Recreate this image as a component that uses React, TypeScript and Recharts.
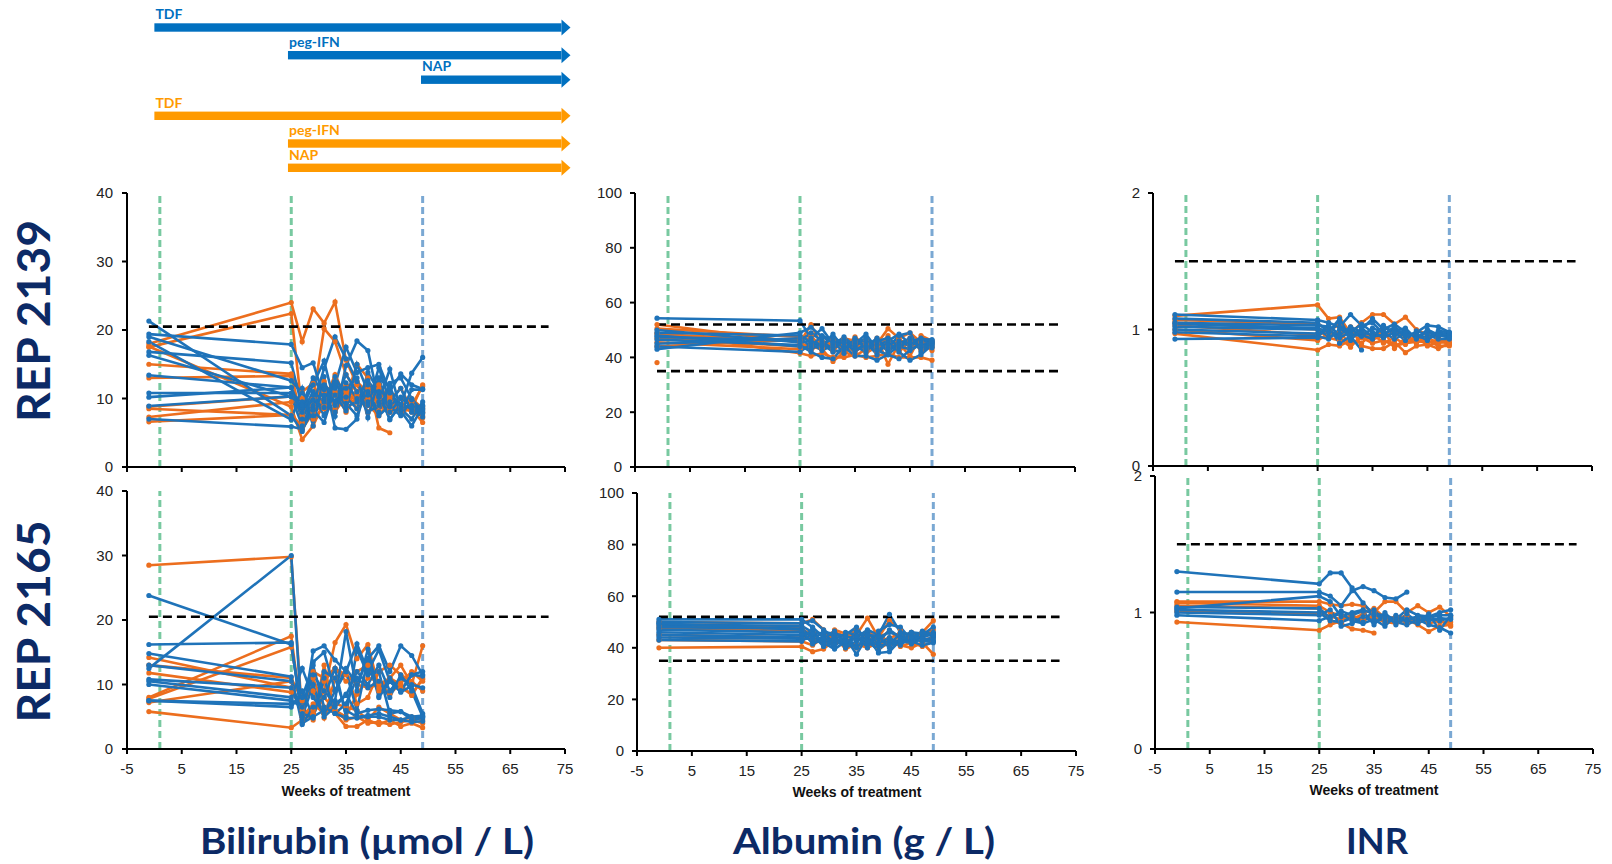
import React from 'react';
import { LineChart, Line, XAxis, YAxis, ReferenceLine } from 'recharts';

// ---------- shared categories ----------
const WEEKS = [-1, 25, 27, 29, 31, 33, 35, 37, 39, 41, 43, 45, 47, 49];
const X_TICKS = [-5, 5, 15, 25, 35, 45, 55, 65, 75];
const PHASE_WEEKS = [1, 25];
const NAP_END_WEEK = 49;

const BILI_TICKS = [0, 10, 20, 30, 40];
const ALB_TICKS = [0, 20, 40, 60, 80, 100];
const INR_TICKS = [0, 1, 2];
const BILI_LIMITS = [20.5];
const ALB_LIMITS = [52, 35];
const INR_LIMITS = [1.5];

type S = (number | null)[];
const _ = null;

// ---------- Bilirubin (µmol/L) REP 2139 ----------
const BILI_2139_BLUE: S[] = [
  [21.3, 7.5, 5.2, 9.0, 14.4, 19.0, 15.8, 12.5, 9.5, 13.0, 8.0, 10.0, 9.0, 8.5],
  [19.4, 17.9, 14.5, 15.2, 10.0, 12.0, 17.5, 13.8, 14.5, 15.0, 11.0, 13.6, 12.0, 11.4],
  [19.0, 12.6, 10.8, 8.5, 11.3, 7.4, 14.8, 18.4, 17.0, 9.5, 14.3, 8.2, 6.0, 8.8],
  [18.3, 6.9, 11.5, 6.0, 13.2, 5.7, 5.5, 7.0, 12.6, 10.5, 7.0, 9.0, 13.7, 16.0],
  [16.8, 15.2, 8.7, 12.0, 15.5, 9.0, 11.5, 13.0, 7.2, 12.8, 11.8, 7.8, 11.3, 11.3],
  [16.3, 10.3, 6.0, 9.8, 8.7, 13.2, 10.2, 8.5, 13.8, 11.0, 6.9, 9.2, 8.5, 7.3],
  [13.4, 11.6, 8.0, 11.0, 9.5, 8.0, 12.3, 10.0, 9.0, 14.5, 9.5, 11.5, 8.0, 9.0],
  [10.8, 10.8, 9.5, 7.5, 12.0, 10.5, 8.2, 15.0, 11.0, 8.0, 12.2, 13.0, 10.0, 8.0],
  [10.2, 11.6, 7.0, 10.5, 7.5, 12.5, 9.3, 7.5, 12.0, 10.2, 8.8, 7.5, 9.8, 8.3],
  [8.9, 10.3, 9.0, 13.0, 10.5, 9.5, 13.5, 11.0, 8.0, 9.0, 10.8, 8.5, 7.0, 9.5],
  [7.0, 5.9, 5.5, 8.3, 6.5, 11.5, 8.8, 9.5, 10.5, 7.5, 9.0, 10.2, 8.8, 7.8],
];
const BILI_2139_ORANGE: S[] = [
  [18.0, 24.0, 18.3, 23.1, 21.0, 24.1, 15.6, 12.0, 9.0, 10.5, 8.0, 9.0, 8.0, 7.5],
  [17.5, 22.4, 8.0, 10.0, 20.2, 18.3, 13.5, 11.0, 12.0, 9.5, 10.2, 8.5, 9.0, 11.8],
  [17.6, 8.8, 4.0, 6.0, 9.5, 13.5, 10.0, 15.0, 13.0, 5.7, 5.0, _, _, _],
  [15.0, 13.6, 6.5, 9.0, 12.5, 8.5, 9.8, 12.5, 10.8, 12.0, 9.8, 11.5, 8.5, 12.0],
  [13.0, 13.3, 11.0, 12.2, 8.5, 11.0, 8.0, 10.5, 9.5, 8.2, 10.5, 9.0, 10.0, 8.5],
  [8.8, 10.3, 7.5, 9.0, 11.0, 9.0, 11.0, 8.5, 10.0, 11.5, 8.5, 10.0, 9.5, 7.2],
  [8.5, 7.6, 6.0, 8.5, 10.0, 13.0, 9.0, 11.0, 8.0, 10.0, 9.0, 8.0, 8.5, 6.5],
  [7.3, 9.5, 10.0, 7.0, 8.8, 10.5, 12.0, 9.5, 11.5, 9.0, 8.0, 9.0, 8.2, 8.0],
  [6.6, 7.6, 5.5, 8.0, 9.0, 8.0, 10.5, 10.0, 9.0, 7.5, 9.5, 8.0, 9.5, 8.8],
];

// ---------- Bilirubin (µmol/L) REP 2165 ----------
const BILI_2165_BLUE: S[] = [
  [23.8, 16.2, 5.0, 13.5, 15.0, 9.0, 12.0, 6.0, 14.0, 16.0, 12.0, 16.0, 14.5, 11.5],
  [12.5, 30.0, 4.0, 5.0, 6.0, 7.5, 18.2, 9.0, 15.5, 8.2, 11.0, 9.0, 11.5, 11.3],
  [16.2, 16.5, 4.5, 15.2, 16.0, 13.8, 12.0, 16.3, 12.0, 15.4, 10.5, 8.8, 9.8, 5.5],
  [14.8, 11.2, 3.8, 6.5, 8.0, 12.5, 5.0, 15.5, 11.5, 12.0, 5.5, 5.8, 5.0, 5.0],
  [13.0, 10.5, 5.0, 10.0, 5.0, 6.5, 8.5, 5.5, 6.0, 6.2, 6.0, 5.8, 4.5, 4.8],
  [10.8, 9.5, 5.5, 4.8, 11.0, 5.5, 4.8, 4.8, 5.0, 5.0, 4.5, 4.5, 4.2, 4.3],
  [10.5, 8.0, 12.5, 8.0, 5.5, 9.0, 12.5, 10.0, 14.0, 8.0, 10.5, 9.0, 11.5, 12.0],
  [10.0, 7.5, 6.5, 11.5, 9.0, 7.0, 8.3, 12.0, 10.0, 13.0, 9.0, 11.0, 10.0, 9.5],
  [7.5, 6.5, 9.0, 5.0, 12.0, 11.0, 6.0, 5.0, 5.2, 5.5, 5.0, 4.5, 5.0, 5.2],
  [7.5, 7.0, 8.0, 13.0, 6.5, 5.5, 7.0, 11.0, 9.5, 10.5, 8.0, 11.5, 9.0, 5.0],
];
const BILI_2165_ORANGE: S[] = [
  [28.5, 29.8, 5.0, 12.0, 11.0, 12.5, 10.5, 12.0, 13.0, 9.0, 11.0, 9.5, 8.5, 10.8],
  [14.2, 9.5, 5.5, 6.0, 9.0, 16.5, 19.3, 14.0, 16.2, 9.5, 11.0, 13.0, 10.0, 16.0],
  [11.8, 8.8, 6.5, 4.5, 13.0, 5.5, 3.5, 3.5, 4.5, 3.8, 4.5, 3.5, 4.0, 3.3],
  [8.0, 17.5, 4.5, 5.5, 10.5, 12.5, 11.5, 10.0, 9.5, 10.0, 11.0, 10.0, 8.3, 11.0],
  [7.8, 15.8, 6.0, 11.0, 6.5, 6.0, 5.0, 8.5, 11.0, 10.5, 8.5, 10.2, 12.0, 10.5],
  [7.2, 10.5, 5.0, 7.0, 5.5, 7.0, 6.5, 6.0, 4.5, 6.5, 5.5, 4.5, 5.0, 4.5],
  [5.8, 3.3, 4.5, 5.5, 8.0, 6.0, 4.5, 5.0, 4.0, 4.2, 3.8, 4.2, 4.5, 4.0],
  [13.0, 11.0, 7.5, 9.0, 4.8, 11.0, 12.0, 7.0, 8.0, 12.0, 13.0, 11.5, 10.5, 9.0],
];

// ---------- Albumin (g/L) REP 2139 ----------
const ALB_2139_BLUE: S[] = [
  [54.3, 53.4, 47.0, 50.5, 45.0, 46.5, 44.0, 47.0, 44.5, 46.0, 48.5, 45.0, 46.0, 45.5],
  [49.0, 48.0, 45.5, 44.0, 48.5, 43.0, 46.5, 44.0, 47.0, 43.0, 45.0, 47.0, 44.0, 46.0],
  [47.5, 46.0, 49.0, 46.0, 43.0, 46.0, 42.0, 45.5, 41.0, 45.5, 42.0, 39.0, 41.0, 44.5],
  [46.5, 44.5, 42.0, 40.0, 39.5, 44.0, 40.5, 40.5, 39.0, 41.0, 39.5, 42.5, 45.0, 44.0],
  [45.0, 47.0, 44.0, 48.0, 46.0, 41.5, 47.0, 43.0, 45.5, 43.5, 48.0, 49.0, 42.0, 45.0],
  [44.0, 42.0, 45.0, 42.5, 44.5, 47.5, 44.0, 42.0, 46.5, 42.0, 46.0, 44.0, 46.5, 46.5],
  [43.0, 49.0, 51.0, 47.5, 45.5, 44.0, 45.0, 48.5, 43.0, 44.5, 43.5, 46.5, 43.5, 45.0],
  [50.0, 45.5, 46.0, 44.5, 47.0, 45.5, 43.0, 44.0, 46.0, 47.0, 44.0, 43.0, 44.5, 43.5],
  [48.0, 44.0, 43.0, 45.0, 42.0, 43.0, 46.0, 46.5, 42.5, 41.0, 44.5, 45.5, 47.0, 46.0],
];
const ALB_2139_ORANGE: S[] = [
  [52.0, 45.5, 52.0, 44.0, 43.0, 41.0, 45.0, 42.5, 45.0, 50.5, 47.0, 49.0, 45.5, 42.5],
  [50.5, 47.5, 48.0, 43.0, 38.5, 42.0, 40.5, 43.0, 47.0, 37.5, 45.0, 40.5, 48.0, 46.0],
  [49.0, 41.5, 40.5, 41.5, 40.0, 40.0, 41.0, 40.0, 40.5, 41.5, 40.0, 40.0, 40.0, 39.0],
  [47.0, 44.0, 45.0, 46.0, 44.5, 46.0, 44.0, 46.5, 43.0, 48.0, 42.0, 46.0, 44.0, 43.5],
  [45.5, 43.0, 44.0, 43.0, 45.0, 43.0, 47.5, 44.0, 45.5, 44.0, 46.5, 44.5, 46.0, 45.5],
  [44.0, 46.5, 47.0, 44.5, 46.5, 44.5, 42.0, 45.0, 42.0, 46.0, 43.5, 47.0, 42.5, 44.0],
  [38.1, _, _, _, _, _, _, _, _, _, _, _, _, _],
  [48.5, 46.0, 42.5, 45.5, 42.0, 47.0, 46.0, 41.5, 44.0, 43.0, 44.0, 43.0, 45.5, 45.0],
];

// ---------- Albumin (g/L) REP 2165 ----------
const ALB_2165_BLUE: S[] = [
  [51.0, 51.0, 48.0, 44.0, 46.0, 42.0, 44.0, 47.0, 45.0, 53.0, 46.0, 45.0, 44.0, 45.5],
  [50.0, 49.5, 50.5, 47.0, 44.0, 45.0, 48.0, 42.0, 44.0, 46.0, 44.5, 46.0, 45.0, 48.0],
  [49.0, 48.5, 46.0, 45.5, 42.0, 44.0, 37.5, 44.5, 38.0, 38.5, 43.0, 43.5, 42.5, 42.5],
  [48.0, 47.5, 44.0, 43.0, 40.5, 46.0, 45.0, 40.0, 46.5, 49.0, 48.0, 43.0, 46.5, 45.0],
  [47.0, 46.0, 45.0, 40.5, 44.5, 40.0, 42.5, 46.0, 41.5, 44.0, 41.0, 44.5, 43.0, 44.0],
  [46.0, 45.0, 42.5, 44.5, 41.0, 43.5, 41.0, 43.0, 43.5, 41.5, 45.5, 41.5, 44.0, 46.0],
  [45.0, 44.0, 47.0, 41.0, 43.0, 41.0, 46.5, 44.0, 40.5, 42.0, 42.0, 46.0, 45.5, 44.5],
  [44.0, 43.5, 43.5, 46.0, 45.5, 44.5, 43.5, 41.5, 42.0, 47.0, 44.0, 42.5, 41.0, 42.0],
  [43.0, 42.5, 45.5, 42.0, 39.5, 42.5, 40.0, 45.0, 44.5, 40.0, 43.5, 44.0, 46.0, 45.0],
  [49.5, 47.0, 41.5, 43.5, 46.5, 40.5, 44.5, 42.5, 39.0, 43.0, 42.5, 42.0, 43.5, 43.0],
];
const ALB_2165_ORANGE: S[] = [
  [50.0, 49.5, 51.0, 47.0, 42.0, 44.0, 45.0, 51.5, 44.0, 50.5, 47.0, 44.0, 46.0, 50.5],
  [40.0, 40.5, 38.5, 39.5, 43.0, 41.0, 40.0, 43.0, 39.5, 42.0, 41.0, 40.0, 42.0, 37.5],
  [45.0, 44.0, 44.0, 41.5, 46.0, 44.5, 44.0, 46.5, 43.5, 46.5, 43.5, 46.0, 43.0, 44.0],
  [47.5, 46.5, 46.0, 45.0, 41.5, 43.0, 47.5, 42.0, 46.0, 41.5, 45.0, 44.5, 46.0, 45.5],
  [43.0, 42.5, 41.0, 44.0, 44.5, 39.5, 41.5, 40.0, 42.0, 44.0, 40.5, 42.0, 40.5, 42.5],
  [48.5, 48.0, 43.0, 42.0, 47.0, 45.5, 43.0, 44.5, 41.0, 43.5, 46.0, 43.5, 45.0, 47.0],
];

// ---------- INR REP 2139 ----------
const INR_2139_BLUE: S[] = [
  [1.11, 1.07, 1.05, 1.02, 1.11, 1.03, 1.05, 0.97, 1.0, 0.95, 0.98, 1.03, 1.02, 0.98],
  [1.08, 1.05, 0.98, 1.08, 0.93, 1.0, 1.08, 1.0, 1.04, 0.98, 0.95, 0.93, 0.97, 0.95],
  [1.05, 1.03, 1.02, 0.9, 0.95, 0.85, _, _, _, _, _, _, _, _],
  [1.02, 1.0, 0.95, 0.97, 1.0, 0.96, 0.93, 1.03, 0.96, 0.99, 0.94, 0.98, 0.95, 0.97],
  [1.0, 0.97, 1.0, 0.94, 0.98, 1.04, 0.98, 0.94, 0.98, 0.92, 0.99, 0.96, 0.93, 0.93],
  [0.98, 0.95, 0.93, 1.0, 0.97, 0.95, 1.01, 0.98, 0.93, 0.97, 0.96, 0.94, 0.98, 0.96],
  [0.93, 0.94, 1.03, 0.96, 1.02, 0.98, 0.96, 1.01, 0.99, 1.01, 0.93, 1.0, 0.96, 0.94],
  [1.04, 1.01, 0.98, 1.05, 0.92, 1.01, 0.95, 0.96, 1.02, 0.95, 0.97, 0.92, 0.99, 0.98],
];
const INR_2139_ORANGE: S[] = [
  [1.1, 1.18, 1.08, 1.09, 0.97, 1.05, 1.11, 1.11, 1.04, 1.09, 1.0, 0.96, 0.94, 0.9],
  [1.07, 1.04, 1.0, 1.03, 0.95, 0.98, 0.93, 0.95, 0.98, 0.95, 0.92, 0.9, 0.93, 0.89],
  [1.05, 1.0, 0.94, 0.92, 1.02, 0.88, 0.86, 0.86, 0.91, 0.83, 0.88, 0.89, 0.86, 0.9],
  [1.0, 0.92, 0.97, 0.98, 0.89, 0.94, 0.9, 0.92, 0.88, 0.9, 0.91, 0.92, 0.88, 0.88],
  [0.97, 0.85, 0.89, 0.88, 0.92, 0.9, 0.97, 0.9, 0.94, 0.89, 0.96, 0.88, 0.91, 0.9],
  [1.03, 0.96, 0.99, 0.94, 0.87, 0.96, 0.92, 1.0, 0.86, 0.94, 0.9, 0.94, 0.9, 0.92],
];

// ---------- INR REP 2165 ----------
const INR_2165_BLUE: S[] = [
  [1.3, 1.21, 1.29, 1.29, 1.18, 1.07, 0.98, 0.96, 0.93, 0.95, 0.97, 0.96, 0.98, 0.98],
  [1.15, 1.15, 1.12, 1.05, 1.16, 1.19, 1.16, 1.11, 1.1, 1.15, _, _, _, _],
  [1.03, 1.12, 1.08, 0.97, 1.0, 1.02, 0.99, 0.98, 0.95, 1.02, 0.98, 0.97, 1.0, 1.02],
  [1.02, 1.0, 0.94, 0.93, 0.96, 0.93, 1.02, 0.93, 0.96, 0.94, 0.92, 0.96, 0.94, 0.96],
  [1.0, 0.98, 1.02, 0.9, 0.92, 0.97, 0.93, 0.96, 0.93, 0.91, 0.95, 0.91, 0.89, 0.85],
  [0.98, 0.94, 0.97, 0.99, 0.94, 0.92, 0.95, 0.9, 0.98, 0.94, 0.97, 0.94, 0.96, 0.95],
  [1.04, 1.03, 0.96, 1.01, 0.98, 1.01, 0.91, 1.0, 0.91, 0.99, 0.93, 0.99, 0.87, 0.98],
];
const INR_2165_ORANGE: S[] = [
  [1.08, 1.08, 1.06, 1.05, 1.06, 1.05, 1.0, 1.08, 1.08, 1.0, 1.05, 1.0, 1.04, 0.97],
  [1.07, 1.05, 1.0, 0.98, 0.95, 0.99, 1.03, 0.96, 0.95, 0.98, 0.93, 0.96, 0.93, 0.93],
  [1.05, 1.03, 0.94, 0.92, 0.88, 0.87, 0.85, _, _, _, _, _, _, _],
  [0.93, 0.87, 0.91, 0.94, 0.97, 0.95, 0.96, 0.93, 0.92, 0.95, 0.91, 0.86, 0.9, 0.91],
  [1.01, 0.99, 0.97, 0.95, 0.98, 0.94, 0.98, 0.95, 0.97, 0.92, 0.96, 0.92, 0.94, 0.9],
];

// ---------- treatment arrows (weeks) ----------
const ARROW_LABELS = ['TDF', 'peg-IFN', 'NAP', 'TDF', 'peg-IFN', 'NAP'];
const ARROW_START_WEEKS = [0, 24.4, 48.7, 0, 24.4, 24.4];
const ARROW_END_WEEK = 76;
const ARROW_GROUP = ['blue', 'blue', 'blue', 'orange', 'orange', 'orange'];

const ROW_LABELS = ['REP 2139', 'REP 2165'];
const COL_TITLES = ['Bilirubin (µmol / L)', 'Albumin (g / L)', 'INR'];
const X_TITLE = 'Weeks of treatment';

// ---------- styles ----------
const C_BLUE = '#1F73B9';
const C_ORANGE = '#EC6E1E';
const C_GREEN_REF = '#78C9A0';
const C_BLUE_REF = '#7AA8D3';
const C_NAVY = '#0C2A66';
const C_ARROW: Record<string, string> = { blue: '#0070C0', orange: '#FF9A00' };
const TICK_FONT = { fontSize: 15, fill: '#222', fontFamily: '"Liberation Sans", Arial, sans-serif' };

type PanelProps = {
  left: number; top: number; w: number; h: number;
  blue: S[]; orange: S[];
  yMax: number; yTicks: number[]; limits: number[];
  showX: boolean; yGap: number;
};

function Panel(p: PanelProps) {
  const rows = WEEKS.map((wk, i) => {
    const r: Record<string, number | null> = { week: wk };
    p.orange.forEach((s, j) => { r['o' + j] = s[i] ?? null; });
    p.blue.forEach((s, j) => { r['b' + j] = s[i] ?? null; });
    return r;
  });
  const axisStyle = { stroke: '#000', strokeWidth: 2 };
  return (
    <div style={{ position: 'absolute', left: p.left - 60, top: p.top - 10 }}>
      <LineChart width={p.w + 70} height={p.h + 40} data={rows} margin={{ top: 10, right: 10, left: 0, bottom: 0 }}>
        <XAxis
          type="number" dataKey="week" domain={[-5, 75]} ticks={X_TICKS} interval={0}
          allowDataOverflow height={30}
          axisLine={axisStyle} tickLine={axisStyle} tickSize={5} tickMargin={9}
          tick={TICK_FONT}
          tickFormatter={(v: number) => (p.showX ? String(v) : '')}
        />
        <YAxis
          type="number" domain={[0, p.yMax]} ticks={p.yTicks} interval={0} width={60}
          allowDataOverflow
          axisLine={axisStyle} tickLine={axisStyle} tickSize={5} tickMargin={p.yGap}
          tick={TICK_FONT}
        />
        {PHASE_WEEKS.map((w) => (
          <ReferenceLine key={'g' + w} x={w} stroke={C_GREEN_REF} strokeWidth={3} strokeDasharray="7 4" />
        ))}
        <ReferenceLine x={NAP_END_WEEK} stroke={C_BLUE_REF} strokeWidth={3} strokeDasharray="7 4" />
        {p.orange.map((_s, j) => (
          <Line key={'o' + j} type="linear" dataKey={'o' + j} stroke={C_ORANGE} strokeWidth={2.6}
            dot={{ r: 2.6, fill: C_ORANGE, stroke: C_ORANGE, strokeWidth: 0 }} activeDot={false}
            isAnimationActive={false} connectNulls={false} />
        ))}
        {p.blue.map((_s, j) => (
          <Line key={'b' + j} type="linear" dataKey={'b' + j} stroke={C_BLUE} strokeWidth={2.6}
            dot={{ r: 2.6, fill: C_BLUE, stroke: C_BLUE, strokeWidth: 0 }} activeDot={false}
            isAnimationActive={false} connectNulls={false} />
        ))}
        {p.limits.map((v) => (
          <ReferenceLine key={'l' + v} segment={[{ x: -1, y: v }, { x: 72, y: v }]}
            stroke="#000" strokeWidth={2.6} strokeDasharray="9 5" />
        ))}
      </LineChart>
    </div>
  );
}

// week -> px mapping for the arrow annotation, aligned to the bilirubin panels
const ARROW_X0 = 127;
const ARROW_PX_PER_WEEK = 438 / 80;
const wx = (w: number) => ARROW_X0 + (w + 5) * ARROW_PX_PER_WEEK;
const ARROW_Y = [27.5, 55.2, 79.7, 115.8, 143.5, 167.8];

function Overlay() {
  const labelFont = 'Lato, "Open Sans", sans-serif';
  return (
    <svg width={1612} height={864} style={{ position: 'absolute', left: 0, top: 0, pointerEvents: 'none' }}>
      {ARROW_LABELS.map((lab, i) => {
        const x0 = wx(ARROW_START_WEEKS[i]);
        const x1 = wx(ARROW_END_WEEK);
        const y = ARROW_Y[i];
        const col = C_ARROW[ARROW_GROUP[i]];
        const head = 9;
        return (
          <g key={i}>
            <rect x={x0} y={y - 4.2} width={x1 - head - x0} height={8.4} fill={col} />
            <polygon points={`${x1 - head},${y - 8} ${x1},${y} ${x1 - head},${y + 8}`} fill={col} />
            <text x={x0 + 1} y={y - 8.3} fill={col} fontFamily={labelFont} fontWeight={700} fontSize={14}>{lab}</text>
          </g>
        );
      })}
      {ROW_LABELS.map((lab, i) => (
        <text key={lab} transform={`translate(50, ${i === 0 ? 321 : 621.5}) rotate(-90)`} textAnchor="middle"
          fill={C_NAVY} fontFamily={labelFont} fontWeight={700} fontSize={46}
          textLength={202} lengthAdjust="spacingAndGlyphs">{lab}</text>
      ))}
      {COL_TITLES.map((t, i) => {
        const xs = [200, 733, 1346];
        const ls = [334, 262, 62];
        return (
          <text key={t} x={xs[i]} y={854} fill={C_NAVY} fontFamily={labelFont} fontWeight={700} fontSize={36}
            textLength={ls[i]} lengthAdjust="spacingAndGlyphs">{t}</text>
        );
      })}
      {[346, 857, 1374].map((cx, i) => (
        <text key={cx} x={cx} y={[795.7, 796.7, 795][i]} textAnchor="middle" fill="#111"
          fontFamily='"Liberation Sans", Arial, sans-serif' fontWeight={700} fontSize={14}>{X_TITLE}</text>
      ))}
    </svg>
  );
}

export default function App() {
  return (
    <div style={{ position: 'absolute', left: 0, top: 0, width: 1612, height: 864, background: '#fff', overflow: 'hidden' }}>
      <Overlay />
      <Panel left={127} top={193} w={438} h={274} blue={BILI_2139_BLUE} orange={BILI_2139_ORANGE}
        yMax={40} yTicks={BILI_TICKS} limits={BILI_LIMITS} showX={false} yGap={9} />
      <Panel left={127} top={491} w={438} h={258} blue={BILI_2165_BLUE} orange={BILI_2165_ORANGE}
        yMax={40} yTicks={BILI_TICKS} limits={BILI_LIMITS} showX={true} yGap={9} />
      <Panel left={635} top={193} w={440} h={274} blue={ALB_2139_BLUE} orange={ALB_2139_ORANGE}
        yMax={100} yTicks={ALB_TICKS} limits={ALB_LIMITS} showX={false} yGap={8} />
      <Panel left={637} top={493} w={439} h={258} blue={ALB_2165_BLUE} orange={ALB_2165_ORANGE}
        yMax={100} yTicks={ALB_TICKS} limits={ALB_LIMITS} showX={true} yGap={8} />
      <Panel left={1153} top={193} w={439} h={273} blue={INR_2139_BLUE} orange={INR_2139_ORANGE}
        yMax={2} yTicks={INR_TICKS} limits={INR_LIMITS} showX={false} yGap={8} />
      <Panel left={1155} top={476} w={438} h={273} blue={INR_2165_BLUE} orange={INR_2165_ORANGE}
        yMax={2} yTicks={INR_TICKS} limits={INR_LIMITS} showX={true} yGap={8} />
    </div>
  );
}
